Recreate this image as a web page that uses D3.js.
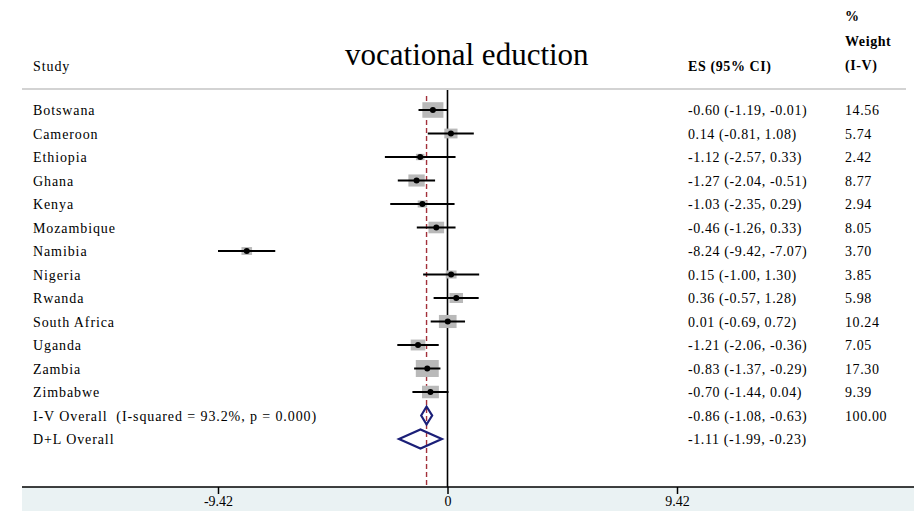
<!DOCTYPE html>
<html><head><meta charset="utf-8">
<script src="https://cdn.jsdelivr.net/npm/d3@7"></script>
<style>
html,body{margin:0;padding:0;background:#fff;}
svg text{font-family:"Liberation Serif","Times New Roman",serif;fill:#000;}
</style></head>
<body>
<svg id="chart" width="914" height="511"></svg>
<script>
const studies = ["Botswana","Cameroon","Ethiopia","Ghana","Kenya","Mozambique","Namibia","Nigeria","Rwanda","South Africa","Uganda","Zambia","Zimbabwe"];
const es      = [-0.60, 0.14, -1.12, -1.27, -1.03, -0.46, -8.24, 0.15, 0.36, 0.01, -1.21, -0.83, -0.70];
const lower   = [-1.19, -0.81, -2.57, -2.04, -2.35, -1.26, -9.42, -1.00, -0.57, -0.69, -2.06, -1.37, -1.44];
const upper   = [-0.01, 1.08, 0.33, -0.51, 0.29, 0.33, -7.07, 1.30, 1.28, 0.72, -0.36, -0.29, 0.04];
const weights = [14.56, 5.74, 2.42, 8.77, 2.94, 8.05, 3.70, 3.85, 5.98, 10.24, 7.05, 17.30, 9.39];
const overallLabels = ["I-V Overall  (I-squared = 93.2%, p = 0.000)", "D+L Overall"];
const overallES     = [-0.86, -1.11];
const overallLower  = [-1.08, -1.99];
const overallUpper  = [-0.63, -0.23];
const overallWeight = ["100.00", ""];
const tickValues = [-9.42, 0, 9.42];
const tickLabels = ["-9.42", "0", "9.42"];
const title = "vocational eduction";

const fmt = d3.formatLocale({decimal:".", thousands:",", grouping:[3], currency:["",""], minus:"-"}).format(".2f");

const svg = d3.select("#chart");
const x = d3.scaleLinear().domain([-9.42, 9.42]).range([218, 677]);
const nRows = studies.length + overallLabels.length;
const y = d3.scaleLinear().domain([0, nRows - 1]).range([110, 110 + 23.5 * (nRows - 1)]);
const boxH = d3.scaleSqrt().domain([0, 17.30]).range([0, 17]);
const axisY = 487;
const textX = 33, esX = 688, wX = 845;
const fs = 14, ls = "0.6px", lsLab = "0.9px";

// bottom band
svg.append("rect").attr("x", 22).attr("y", axisY).attr("width", 914 - 22).attr("height", 511 - axisY).attr("fill", "#eaf2f3");

// title
svg.append("text").attr("x", 345).attr("y", 65).attr("font-size", 31).text(title);

// headers
svg.append("text").attr("x", textX).attr("y", 71).attr("font-size", fs).attr("letter-spacing", lsLab).text("Study");
svg.append("text").attr("x", esX).attr("y", 71).attr("font-size", fs).attr("letter-spacing", ls).attr("font-weight", "bold").text("ES (95% CI)");
["%", "Weight", "(I-V)"].forEach((t, i) => {
  svg.append("text").attr("x", wX).attr("y", 21 + i * 24.5).attr("font-size", fs).attr("letter-spacing", ls).attr("font-weight", "bold").text(t);
});

// top separator
svg.append("line").attr("x1", 22).attr("x2", 906).attr("y1", 89).attr("y2", 89).attr("stroke", "#c4c4c4").attr("stroke-width", 1.5);

// zero line
svg.append("line").attr("x1", x(0)).attr("x2", x(0)).attr("y1", 90).attr("y2", axisY).attr("stroke", "#000").attr("stroke-width", 1.6);
// overall dashed line
svg.append("line").attr("x1", x(overallES[0])).attr("x2", x(overallES[0])).attr("y1", 96).attr("y2", axisY)
  .attr("stroke", "#a3303a").attr("stroke-width", 1.4).attr("stroke-dasharray", "5,3");

// axis
const axis = d3.axisBottom(x).tickValues(tickValues).tickFormat((d, i) => tickLabels[i]).tickSize(7).tickSizeOuter(0);
const gAxis = svg.append("g").attr("transform", `translate(0,${axisY})`).call(axis);
gAxis.attr("font-size", 14).attr("font-family", "Liberation Serif, serif");
gAxis.select(".domain").remove();
gAxis.selectAll(".tick line").attr("stroke", "#000").attr("stroke-width", 1.5);
gAxis.selectAll(".tick text").style("font-size", "14px").attr("fill", "#000").attr("dy", 0).attr("y", 18.5);
svg.append("line").attr("x1", 22).attr("x2", 914).attr("y1", axisY).attr("y2", axisY).attr("stroke", "#000").attr("stroke-width", 1.3);

// study rows
const rows = svg.append("g").selectAll("g").data(studies).join("g");
rows.append("rect")
  .attr("x", (d, i) => x(es[i]) - boxH(weights[i]) * 0.675)
  .attr("y", (d, i) => y(i) - boxH(weights[i]) / 2)
  .attr("width", (d, i) => boxH(weights[i]) * 1.35)
  .attr("height", (d, i) => boxH(weights[i]))
  .attr("fill", "#b9b9b9");
rows.append("line")
  .attr("x1", (d, i) => x(lower[i])).attr("x2", (d, i) => x(upper[i]))
  .attr("y1", (d, i) => y(i)).attr("y2", (d, i) => y(i))
  .attr("stroke", "#000").attr("stroke-width", 2);
rows.append("circle").attr("cx", (d, i) => x(es[i])).attr("cy", (d, i) => y(i)).attr("r", 3).attr("fill", "#000");
rows.append("text").attr("x", textX).attr("y", (d, i) => y(i) + 5).attr("font-size", fs).attr("letter-spacing", lsLab).text(d => d);
rows.append("text").attr("x", esX).attr("y", (d, i) => y(i) + 5).attr("font-size", fs).attr("letter-spacing", ls)
  .text((d, i) => `${fmt(es[i])} (${fmt(lower[i])}, ${fmt(upper[i])})`);
rows.append("text").attr("x", wX).attr("y", (d, i) => y(i) + 5).attr("font-size", fs).attr("letter-spacing", ls)
  .text((d, i) => fmt(weights[i]));

// overall rows
const halfH = [9, 9.5];
const orows = svg.append("g").selectAll("g").data(overallLabels).join("g");
orows.append("path")
  .attr("d", (d, i) => {
    const yy = y(studies.length + i);
    return `M${x(overallLower[i])},${yy} L${x(overallES[i])},${yy - halfH[i]} L${x(overallUpper[i])},${yy} L${x(overallES[i])},${yy + halfH[i]} Z`;
  })
  .attr("fill", "none").attr("stroke", "#1b1f78").attr("stroke-width", 2.2);
orows.append("text").attr("x", textX).attr("y", (d, i) => y(studies.length + i) + 5).attr("font-size", fs).attr("letter-spacing", lsLab)
  .style("white-space", "pre").text(d => d);
orows.append("text").attr("x", esX).attr("y", (d, i) => y(studies.length + i) + 5).attr("font-size", fs).attr("letter-spacing", ls)
  .text((d, i) => `${fmt(overallES[i])} (${fmt(overallLower[i])}, ${fmt(overallUpper[i])})`);
orows.append("text").attr("x", wX).attr("y", (d, i) => y(studies.length + i) + 5).attr("font-size", fs).attr("letter-spacing", ls)
  .text((d, i) => overallWeight[i]);
</script>
</body></html>
